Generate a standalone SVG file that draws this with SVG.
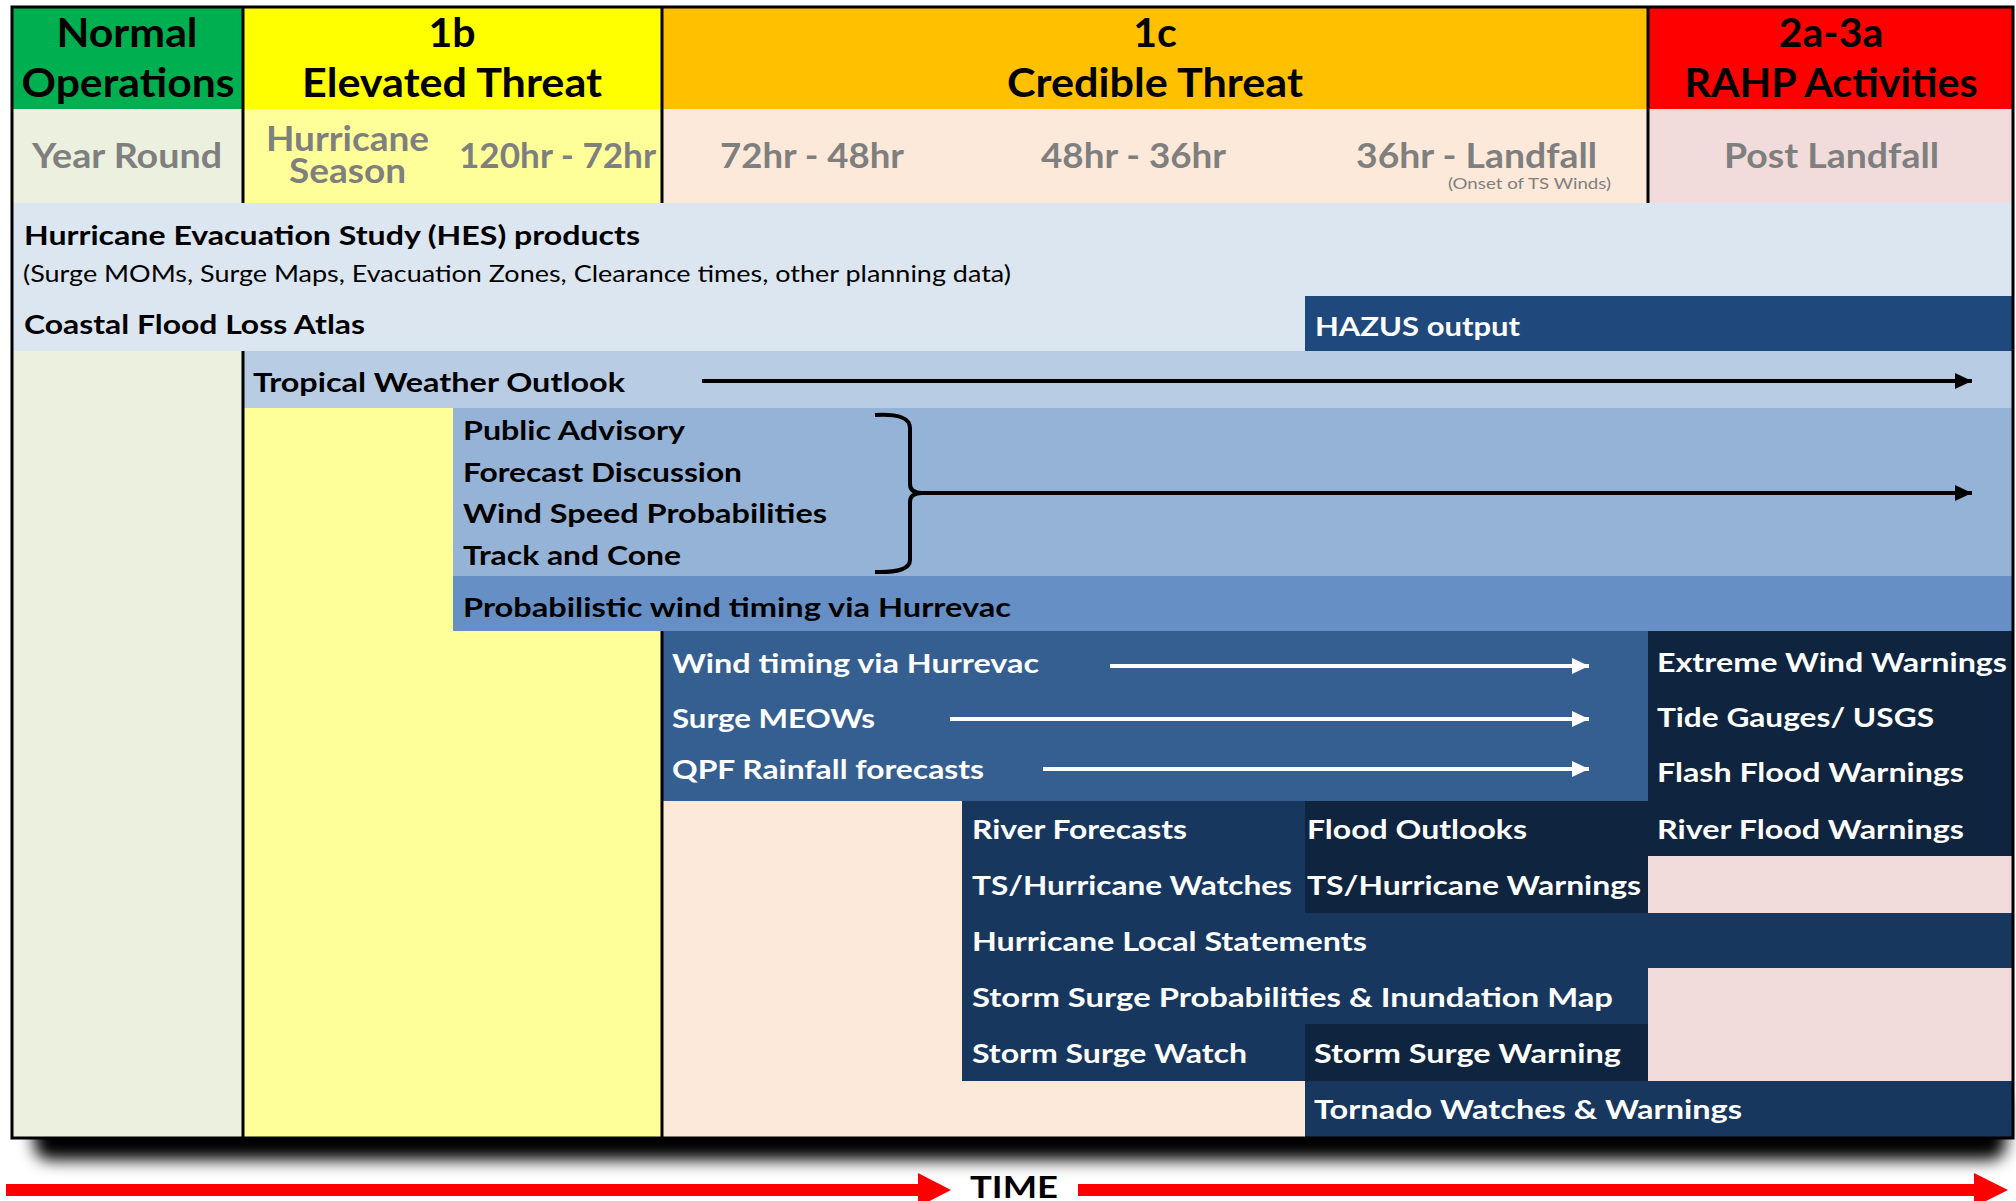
<svg xmlns="http://www.w3.org/2000/svg" width="2016" height="1201" viewBox="0 0 2016 1201">
<defs>
<style>
.hd{font-family:Lato,"Liberation Sans",sans-serif;font-weight:bold;font-size:41px;fill:#000;text-anchor:middle}
.r2{font-family:Lato,"Liberation Sans",sans-serif;font-weight:bold;font-size:35px;fill:#7f7f7f}
.bk{font-family:Lato,"Liberation Sans",sans-serif;font-weight:bold;font-size:27px;fill:#000}
.wt{font-family:Lato,"Liberation Sans",sans-serif;font-weight:bold;font-size:27px;fill:#fff}
.sm{font-family:Lato,"Liberation Sans",sans-serif;font-size:23px;fill:#000}
.on{font-family:Lato,"Liberation Sans",sans-serif;font-size:15px;fill:#7f7f7f}
.div{stroke:#000;stroke-width:3}
</style>
<filter id="shadow" x="-5%" y="-100%" width="110%" height="300%">
<feGaussianBlur stdDeviation="8"/>
</filter>
<marker id="ab" markerUnits="userSpaceOnUse" markerWidth="20" markerHeight="20" refX="17" refY="9" orient="auto" viewBox="0 0 20 18">
<path d="M0,1 L17,9 L0,17 Z" fill="#000"/>
</marker>
<marker id="aw" markerUnits="userSpaceOnUse" markerWidth="20" markerHeight="20" refX="17" refY="9" orient="auto" viewBox="0 0 20 18">
<path d="M0,1 L17,9 L0,17 Z" fill="#fff"/>
</marker>
</defs>
<rect x="0" y="0" width="2016" height="1201" fill="#fff"/>
<rect x="34" y="1090" width="1972" height="70" rx="16" fill="#000" filter="url(#shadow)"/>

<g id="backgrounds">
<rect x="12" y="7" width="231" height="102" fill="#00b050"/>
<rect x="243" y="7" width="419" height="102" fill="#ffff00"/>
<rect x="662" y="7" width="986" height="102" fill="#ffc000"/>
<rect x="1648" y="7" width="365" height="102" fill="#ff0000"/>
<rect x="12" y="109" width="231" height="1029" fill="#ebf1de"/>
<rect x="243" y="109" width="419" height="1029" fill="#ffff99"/>
<rect x="662" y="109" width="986" height="1029" fill="#fde9d9"/>
<rect x="1648" y="109" width="365" height="1029" fill="#f2dcdb"/>
</g>

<g id="header-normal">
<text class="hd" x="127" y="47" textLength="141" lengthAdjust="spacingAndGlyphs">Normal</text>
<text class="hd" x="128" y="97" textLength="213" lengthAdjust="spacingAndGlyphs">Operations</text>
<text class="r2" x="32" y="168" textLength="190" lengthAdjust="spacingAndGlyphs">Year Round</text>
</g>
<g id="header-1b">
<text class="hd" x="452" y="47">1b</text>
<text class="hd" x="452" y="97" textLength="300" lengthAdjust="spacingAndGlyphs">Elevated Threat</text>
<text class="r2" x="266" y="151" font-size="32" textLength="163" lengthAdjust="spacingAndGlyphs">Hurricane</text>
<text class="r2" x="289" y="183" font-size="32" textLength="117" lengthAdjust="spacingAndGlyphs">Season</text>
<text class="r2" x="459" y="168" textLength="197" lengthAdjust="spacingAndGlyphs">120hr - 72hr</text>
</g>
<g id="header-1c">
<text class="hd" x="1155" y="47">1c</text>
<text class="hd" x="1155" y="97" textLength="296" lengthAdjust="spacingAndGlyphs">Credible Threat</text>
<text class="r2" x="720" y="168" textLength="184" lengthAdjust="spacingAndGlyphs">72hr - 48hr</text>
<text class="r2" x="1041" y="168" textLength="185" lengthAdjust="spacingAndGlyphs">48hr - 36hr</text>
<text class="r2" x="1356" y="168" textLength="241" lengthAdjust="spacingAndGlyphs">36hr - Landfall</text>
<text class="on" x="1448" y="189" textLength="163" lengthAdjust="spacingAndGlyphs">(Onset of TS Winds)</text>
</g>
<g id="header-2a3a">
<text class="hd" x="1831" y="47">2a-3a</text>
<text class="hd" x="1831" y="97" textLength="293" lengthAdjust="spacingAndGlyphs">RAHP Activities</text>
<text class="r2" x="1724" y="168" textLength="215" lengthAdjust="spacingAndGlyphs">Post Landfall</text>
</g>

<g id="hes">
<rect x="12" y="203" width="2001" height="148" fill="#dce6f1"/>
<text class="bk" x="24" y="245" textLength="616" lengthAdjust="spacingAndGlyphs">Hurricane Evacuation Study (HES) products</text>
<text class="sm" x="23" y="282" textLength="988" lengthAdjust="spacingAndGlyphs">(Surge MOMs, Surge Maps, Evacuation Zones, Clearance times, other planning data)</text>
</g>
<g id="coastal">
<text class="bk" x="24" y="334" textLength="341" lengthAdjust="spacingAndGlyphs">Coastal Flood Loss Atlas</text>
</g>
<g id="hazus">
<rect x="1305" y="296" width="708" height="55" fill="#1f497d"/>
<text class="wt" x="1315" y="336" textLength="205" lengthAdjust="spacingAndGlyphs">HAZUS output</text>
</g>
<g id="tropical">
<rect x="243" y="351" width="1770" height="57" fill="#b8cce4"/>
<text class="bk" x="253" y="392" textLength="372" lengthAdjust="spacingAndGlyphs">Tropical Weather Outlook</text>
</g>
<g id="advisories">
<rect x="453" y="408" width="1560" height="168" fill="#95b3d7"/>
<text class="bk" x="463" y="440" textLength="222" lengthAdjust="spacingAndGlyphs">Public Advisory</text>
<text class="bk" x="463" y="482" textLength="279" lengthAdjust="spacingAndGlyphs">Forecast Discussion</text>
<text class="bk" x="463" y="523" textLength="364" lengthAdjust="spacingAndGlyphs">Wind Speed Probabilities</text>
<text class="bk" x="463" y="565" textLength="218" lengthAdjust="spacingAndGlyphs">Track and Cone</text>
</g>
<g id="probabilistic">
<rect x="453" y="576" width="1560" height="55" fill="#6690c5"/>
<text class="bk" x="463" y="617" textLength="548" lengthAdjust="spacingAndGlyphs">Probabilistic wind timing via Hurrevac</text>
</g>
<g id="hurrevac-block">
<rect x="662" y="631" width="986" height="170" fill="#365f91"/>
<text class="wt" x="672" y="673" textLength="367" lengthAdjust="spacingAndGlyphs">Wind timing via Hurrevac</text>
<text class="wt" x="672" y="728" textLength="203" lengthAdjust="spacingAndGlyphs">Surge MEOWs</text>
<text class="wt" x="672" y="779" textLength="312" lengthAdjust="spacingAndGlyphs">QPF Rainfall forecasts</text>
</g>
<g id="post-landfall-block">
<rect x="1648" y="631" width="365" height="225" fill="#0f243e"/>
<text class="wt" x="1657" y="672" textLength="350" lengthAdjust="spacingAndGlyphs">Extreme Wind Warnings</text>
<text class="wt" x="1657" y="727" textLength="277" lengthAdjust="spacingAndGlyphs">Tide Gauges/ USGS</text>
<text class="wt" x="1657" y="782" textLength="307" lengthAdjust="spacingAndGlyphs">Flash Flood Warnings</text>
<text class="wt" x="1657" y="839" textLength="307" lengthAdjust="spacingAndGlyphs">River Flood Warnings</text>
</g>
<g id="river-forecasts">
<rect x="962" y="801" width="343" height="112" fill="#17375e"/>
<text class="wt" x="972" y="839" textLength="215" lengthAdjust="spacingAndGlyphs">River Forecasts</text>
<text class="wt" x="972" y="895" textLength="320" lengthAdjust="spacingAndGlyphs">TS/Hurricane Watches</text>
</g>
<g id="flood-outlooks">
<rect x="1305" y="801" width="343" height="112" fill="#0f243e"/>
<text class="wt" x="1307" y="839" textLength="220" lengthAdjust="spacingAndGlyphs">Flood Outlooks</text>
<text class="wt" x="1307" y="895" textLength="334" lengthAdjust="spacingAndGlyphs">TS/Hurricane Warnings</text>
</g>
<g id="hurricane-local">
<rect x="962" y="913" width="1051" height="55" fill="#17375e"/>
<text class="wt" x="972" y="951" textLength="395" lengthAdjust="spacingAndGlyphs">Hurricane Local Statements</text>
</g>
<g id="storm-surge-prob">
<rect x="962" y="968" width="686" height="56" fill="#17375e"/>
<text class="wt" x="972" y="1007" textLength="641" lengthAdjust="spacingAndGlyphs">Storm Surge Probabilities &amp; Inundation Map</text>
</g>
<g id="storm-surge-watch">
<rect x="962" y="1024" width="343" height="57" fill="#17375e"/>
<text class="wt" x="972" y="1063" textLength="275" lengthAdjust="spacingAndGlyphs">Storm Surge Watch</text>
</g>
<g id="storm-surge-warning">
<rect x="1305" y="1024" width="343" height="57" fill="#0f243e"/>
<text class="wt" x="1314" y="1063" textLength="307" lengthAdjust="spacingAndGlyphs">Storm Surge Warning</text>
</g>
<g id="tornado">
<rect x="1305" y="1081" width="708" height="57" fill="#17375e"/>
<text class="wt" x="1314" y="1119" textLength="428" lengthAdjust="spacingAndGlyphs">Tornado Watches &amp; Warnings</text>
</g>

<g id="grid-lines">
<line class="div" x1="243" y1="7" x2="243" y2="203"/>
<line class="div" x1="662" y1="7" x2="662" y2="203"/>
<line class="div" x1="1648" y1="7" x2="1648" y2="203"/>
<line class="div" x1="243" y1="351" x2="243" y2="1138"/>
<line class="div" x1="662" y1="631" x2="662" y2="1138"/>
<rect x="12" y="7" width="2001" height="1131" fill="none" stroke="#000" stroke-width="3"/>
</g>

<g id="connectors">
<line x1="702" y1="381" x2="1972" y2="381" stroke="#000" stroke-width="4" marker-end="url(#ab)"/>
<path d="M875,415 Q910,413 910,428 L910,484 Q910,493 922,493 Q910,493 910,502 L910,560 Q910,573 875,572" fill="none" stroke="#000" stroke-width="4"/>
<line x1="920" y1="493" x2="1972" y2="493" stroke="#000" stroke-width="4" marker-end="url(#ab)"/>
<line x1="1110" y1="666" x2="1589" y2="666" stroke="#fff" stroke-width="4" marker-end="url(#aw)"/>
<line x1="950" y1="719" x2="1589" y2="719" stroke="#fff" stroke-width="4" marker-end="url(#aw)"/>
<line x1="1043" y1="769" x2="1589" y2="769" stroke="#fff" stroke-width="4" marker-end="url(#aw)"/>
</g>

<g id="time-axis">
<rect x="6" y="1184" width="916" height="12" fill="#ff0000"/>
<polygon points="918,1173 951,1190 918,1207" fill="#ff0000"/>
<text x="1014" y="1198" font-family="Lato,'Liberation Sans',sans-serif" font-weight="bold" font-size="31" text-anchor="middle" textLength="88" lengthAdjust="spacingAndGlyphs">TIME</text>
<rect x="1078" y="1184" width="900" height="12" fill="#ff0000"/>
<polygon points="1974,1173 2008,1190 1974,1207" fill="#ff0000"/>
</g>
</svg>
